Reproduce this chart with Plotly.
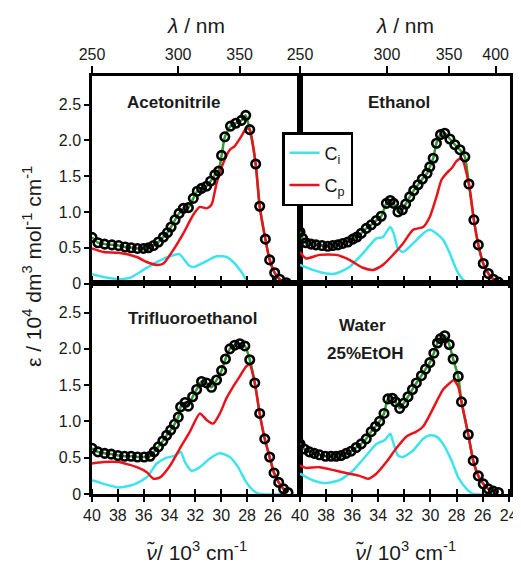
import plotly.graph_objects as go

# ---------------- data (wavenumber in 10^3 cm^-1, epsilon in 10^4 dm3 mol-1 cm-1) -------------
# Acetonitrile
acn_exp_nu = [40.0, 39.54, 39.02, 38.46, 37.94, 37.43, 36.97, 36.48, 36.02, 35.63, 35.24, 34.86, 34.47, 34.16,
              33.88, 33.57, 33.26, 32.93, 32.54, 32.16, 31.85, 31.52, 31.13, 30.82, 30.49, 30.2, 29.97, 29.72,
              29.28, 28.87, 28.43, 28.10, 27.79, 27.33, 27.02, 26.58, 26.25, 25.86, 25.48, 24.96]
acn_exp_eps = [0.645, 0.57, 0.55, 0.54, 0.53, 0.51, 0.50, 0.49, 0.49, 0.50, 0.53, 0.58, 0.65, 0.71,
               0.79, 0.89, 0.98, 1.05, 1.06, 1.19, 1.29, 1.33, 1.36, 1.43, 1.52, 1.57, 1.79, 2.05,
               2.20, 2.24, 2.28, 2.35, 2.15, 1.67, 1.08, 0.62, 0.33, 0.15, 0.06, 0.01]
acn_cp_nu = [40, 39.1, 37.94, 36.53, 35.76, 34.99, 34.47, 33.70, 32.93, 32.16, 31.65, 31.13, 30.75, 30.36,
             29.85, 29.33, 28.95, 28.43, 28.05, 27.79, 27.33, 27.02, 26.58, 26.25, 25.86, 25.48, 24.96]
acn_cp_eps = [0.49, 0.44, 0.43, 0.37, 0.30, 0.26, 0.28, 0.47, 0.70, 0.96, 1.07, 1.05, 1.10, 1.40,
              1.68, 1.87, 1.92, 2.06, 2.17, 2.15, 1.67, 1.08, 0.62, 0.33, 0.15, 0.06, 0.01]
acn_ci_nu = [40, 39.1, 37.94, 37.04, 36.02, 34.99, 33.96, 33.24, 32.93, 32.54, 32.16, 31.39, 30.36, 29.59,
             29.07, 28.43, 28.05, 27.66, 25.0]
acn_ci_eps = [0.13, 0.09, 0.06, 0.08, 0.19, 0.30, 0.38, 0.41, 0.35, 0.26, 0.23, 0.29, 0.38, 0.37,
              0.30, 0.16, 0.05, 0.0, 0.0]

# Ethanol
eth_exp_nu = [40, 39.8, 39.54, 39.15, 38.77, 38.31, 37.87, 37.49, 37.10, 36.72, 36.33, 35.95, 35.64, 35.31,
              34.92, 34.54, 34.15, 33.77, 33.38, 33.08, 32.82, 32.49, 32.15, 31.90, 31.59, 31.28, 30.95, 30.62,
              30.26, 30.05, 29.79, 29.54, 29.23, 28.90, 28.51, 28.13, 27.74, 27.36, 27.05, 26.67, 26.33, 25.95,
              25.56, 25.18, 24.79]
eth_exp_eps = [0.72, 0.63, 0.57, 0.55, 0.54, 0.53, 0.52, 0.53, 0.54, 0.56, 0.58, 0.62, 0.65, 0.70,
               0.77, 0.82, 0.88, 0.94, 1.12, 1.16, 1.12, 1.00, 1.03, 1.11, 1.21, 1.30, 1.38, 1.46,
               1.54, 1.63, 1.75, 1.96, 2.08, 2.10, 2.02, 1.94, 1.87, 1.77, 1.39, 0.89, 0.54, 0.28,
               0.14, 0.06, 0.02]
eth_cp_nu = [40, 39.54, 38.51, 37.23, 36.21, 35.18, 34.41, 33.64, 32.87, 32.10, 31.33, 30.56, 30.05, 29.54,
             29.15, 28.77, 28.38, 28.0, 27.62, 27.05, 26.67, 26.33, 25.95, 25.56, 25.18, 24.79]
eth_cp_eps = [0.44, 0.35, 0.40, 0.40, 0.33, 0.22, 0.19, 0.26, 0.40, 0.56, 0.75, 0.79, 0.93, 1.21,
              1.45, 1.54, 1.61, 1.71, 1.75, 1.39, 0.89, 0.54, 0.28, 0.14, 0.06, 0.02]
eth_ci_nu = [40, 39.03, 38.0, 37.23, 36.21, 35.18, 34.15, 33.64, 33.08, 32.82, 32.49, 32.10, 31.33, 30.56,
             30.05, 29.54, 29.03, 28.51, 28.0, 27.49, 26.97, 25.0]
eth_ci_eps = [0.26, 0.19, 0.14, 0.14, 0.23, 0.42, 0.63, 0.65, 0.79, 0.70, 0.49, 0.44, 0.56, 0.70,
              0.75, 0.70, 0.61, 0.42, 0.19, 0.05, 0.0, 0.0]

# Trifluoroethanol
tfe_exp_nu = [40, 39.54, 39.02, 38.51, 37.99, 37.48, 36.97, 36.48, 35.96, 35.50, 35.19, 34.86, 34.52, 34.22,
              33.91, 33.62, 33.32, 33.14, 32.80, 32.54, 32.21, 31.90, 31.52, 31.13, 30.75, 30.36, 29.97, 29.67,
              29.33, 28.95, 28.56, 28.17, 27.79, 27.40, 27.02, 26.63, 26.25, 25.91, 25.55, 25.17, 24.83]
tfe_exp_eps = [0.63, 0.58, 0.56, 0.55, 0.53, 0.52, 0.52, 0.51, 0.51, 0.52, 0.58, 0.65, 0.73, 0.81,
               0.88, 0.96, 1.06, 1.20, 1.26, 1.21, 1.34, 1.44, 1.55, 1.53, 1.47, 1.57, 1.70, 1.86,
               2.00, 2.05, 2.07, 2.04, 1.85, 1.53, 1.11, 0.76, 0.51, 0.29, 0.16, 0.07, 0.02]
tfe_cp_nu = [40, 39.1, 37.94, 36.53, 35.76, 35.24, 34.73, 33.96, 33.19, 32.42, 31.65, 31.13, 30.62, 30.10,
             29.59, 29.07, 28.56, 28.05, 27.79, 27.40, 27.02, 26.63, 26.25, 25.91, 25.55, 25.17, 24.83]
tfe_cp_eps = [0.42, 0.44, 0.44, 0.37, 0.30, 0.21, 0.23, 0.39, 0.63, 0.86, 1.11, 1.02, 0.97, 1.11,
              1.32, 1.48, 1.62, 1.76, 1.78, 1.53, 1.11, 0.76, 0.51, 0.29, 0.16, 0.07, 0.02]
tfe_ci_nu = [40, 39.1, 37.94, 36.79, 35.76, 34.99, 34.22, 33.57, 33.14, 32.80, 32.29, 31.65, 30.87, 30.10,
             29.33, 28.69, 28.05, 27.53, 27.02, 25.0]
tfe_ci_eps = [0.19, 0.14, 0.09, 0.13, 0.23, 0.42, 0.50, 0.53, 0.58, 0.44, 0.32, 0.37, 0.49, 0.56,
              0.51, 0.37, 0.16, 0.05, 0.0, 0.0]

# Water 25% EtOH
wat_exp_nu = [40, 39.67, 39.28, 38.90, 38.51, 38.05, 37.62, 37.23, 36.85, 36.46, 36.08, 35.69, 35.31, 34.92,
              34.54, 34.21, 33.90, 33.56, 33.26, 32.92, 32.67, 32.36, 32.05, 31.72, 31.38, 31.08, 30.69, 30.38,
              30.05, 29.74, 29.46, 29.23, 28.90, 28.56, 28.26, 27.87, 27.62, 27.10, 26.72, 26.33, 25.95, 25.56,
              25.18, 24.79]
wat_exp_eps = [0.69, 0.62, 0.58, 0.56, 0.54, 0.52, 0.52, 0.52, 0.53, 0.56, 0.59, 0.64, 0.69, 0.76,
               0.86, 0.93, 1.00, 1.11, 1.31, 1.32, 1.27, 1.18, 1.25, 1.34, 1.44, 1.53, 1.63, 1.72,
               1.81, 1.94, 2.08, 2.14, 2.18, 2.06, 1.86, 1.62, 1.27, 0.82, 0.46, 0.25, 0.14, 0.07,
               0.04, 0.02]
wat_cp_nu = [40, 39.54, 38.51, 37.23, 36.21, 35.44, 34.79, 34.15, 33.38, 32.62, 31.85, 31.08, 30.56, 30.05,
             29.54, 29.03, 28.51, 28.21, 27.87, 27.62, 27.10, 26.72, 26.33, 25.95, 25.56, 25.18, 24.79]
wat_cp_eps = [0.39, 0.36, 0.37, 0.32, 0.28, 0.25, 0.21, 0.28, 0.44, 0.63, 0.79, 0.86, 0.93, 1.09,
              1.27, 1.44, 1.53, 1.57, 1.48, 1.27, 0.82, 0.46, 0.25, 0.14, 0.07, 0.04, 0.02]
wat_ci_nu = [40, 39.03, 38.0, 36.97, 35.95, 34.92, 34.15, 33.51, 33.08, 32.82, 32.49, 32.10, 31.33, 30.56,
             30.05, 29.54, 29.03, 28.38, 27.87, 27.23, 26.72, 25.0]
wat_ci_eps = [0.28, 0.19, 0.15, 0.19, 0.32, 0.53, 0.69, 0.74, 0.83, 0.69, 0.53, 0.51, 0.60, 0.76,
              0.81, 0.79, 0.69, 0.46, 0.23, 0.07, 0.0, 0.0]

panel_names = ["Acetonitrile", "Ethanol", "Trifluoroethanol", "Water", "25%EtOH"]

# ticks
nu_ticks_left = [40, 38, 36, 34, 32, 30, 28, 26]
nu_ticks_right = [40, 38, 36, 34, 32, 30, 28, 26, 24]
lam_ticks_left = [250, 300, 350]
lam_ticks_right = [250, 300, 350, 400]
eps_ticks = [0, 0.5, 1.0, 1.5, 2.0, 2.5]
eps_ticktext = ["0", "0.5", "1.0", "1.5", "2.0", "2.5"]

# ---------------- styling ----------------
FONT = "Liberation Sans, Arial, sans-serif"
TXT = "#1a1a1a"
CYAN = "#3EE3EE"
RED = "#E8141C"
GREEN = "#2E9E2E"
AX = "black"
XR = [40, 23.9]
YR = [0, 2.9]

xsplit = 0.4976
ysplit = 0.5036

panels = [
    dict(exp=(acn_exp_nu, acn_exp_eps), cp=(acn_cp_nu, acn_cp_eps), ci=(acn_ci_nu, acn_ci_eps), xa="x", ya="y"),
    dict(exp=(eth_exp_nu, eth_exp_eps), cp=(eth_cp_nu, eth_cp_eps), ci=(eth_ci_nu, eth_ci_eps), xa="x2", ya="y2"),
    dict(exp=(tfe_exp_nu, tfe_exp_eps), cp=(tfe_cp_nu, tfe_cp_eps), ci=(tfe_ci_nu, tfe_ci_eps), xa="x3", ya="y3"),
    dict(exp=(wat_exp_nu, wat_exp_eps), cp=(wat_cp_nu, wat_cp_eps), ci=(wat_ci_nu, wat_ci_eps), xa="x4", ya="y4"),
]

fig = go.Figure()
for i, p in enumerate(panels):
    first = i == 0
    # total fit (green)
    fig.add_trace(go.Scatter(x=p["exp"][0], y=p["exp"][1], mode="lines", xaxis=p["xa"], yaxis=p["ya"],
                             line=dict(color=GREEN, width=2.5, shape="spline", smoothing=0.5),
                             showlegend=False, hoverinfo="skip"))
    fig.add_trace(go.Scatter(x=p["ci"][0], y=p["ci"][1], mode="lines", xaxis=p["xa"], yaxis=p["ya"],
                             line=dict(color=CYAN, width=2.5, shape="spline", smoothing=0.6),
                             name="C<sub>i</sub>", legendgroup="ci", showlegend=first))
    fig.add_trace(go.Scatter(x=p["cp"][0], y=p["cp"][1], mode="lines", xaxis=p["xa"], yaxis=p["ya"],
                             line=dict(color=RED, width=2.5, shape="spline", smoothing=0.6),
                             name="C<sub>p</sub>", legendgroup="cp", showlegend=first))
    fig.add_trace(go.Scatter(x=p["exp"][0], y=p["exp"][1], mode="markers", xaxis=p["xa"], yaxis=p["ya"],
                             marker=dict(symbol="circle-open", size=8.5, color="black",
                                         line=dict(width=2.6, color="black")),
                             showlegend=False))

tickfont = dict(family=FONT, size=16, color=TXT)
common = dict(range=XR, showline=True, linecolor=AX, linewidth=2.5, showgrid=False, zeroline=False,
              tickfont=tickfont, automargin=False, tickcolor=AX, tickwidth=2)

def lam_axis(dom, anchor, lams):
    return dict(common, domain=dom, anchor=anchor, side="top", mirror=True,
                tickmode="array", tickvals=[1e4 / l for l in lams], ticktext=[str(l) for l in lams],
                ticks="outside", ticklen=7)

def nu_axis(dom, anchor, vals):
    # crossing ticks: major outside + minor inside at the same positions; mirrored onto the panel above
    return dict(common, domain=dom, anchor=anchor, side="bottom", mirror="ticks",
                tickmode="array", tickvals=vals, ticks="outside", ticklen=5,
                minor=dict(tickmode="array", tickvals=[v + 1e-4 for v in vals], ticks="inside",
                           ticklen=5, tickwidth=2, tickcolor=AX, showgrid=False))

base_y = dict(range=YR, showline=True, linecolor=AX, linewidth=2.5, mirror=True, showgrid=False,
              zeroline=False, tickfont=tickfont, automargin=False)

# the page puts the figure 8 px in from the top-left corner, so the figure is 8 px smaller
fig.update_layout(
    width=513, height=559, paper_bgcolor="white", plot_bgcolor="white",
    margin=dict(l=84, r=11, t=68, b=73, autoexpand=False),
    font=dict(family=FONT, color=TXT),
    xaxis=lam_axis([0, xsplit], "y", lam_ticks_left),
    xaxis2=lam_axis([xsplit, 1], "y2", lam_ticks_right),
    xaxis3=nu_axis([0, xsplit], "y3", nu_ticks_left),
    xaxis4=nu_axis([xsplit, 1], "y4", nu_ticks_right),
    yaxis=dict(base_y, domain=[ysplit, 1], anchor="x", tickvals=eps_ticks, ticktext=eps_ticktext,
               ticks="outside", ticklen=5, tickwidth=2, tickcolor=AX),
    yaxis2=dict(base_y, domain=[ysplit, 1], anchor="x2", showticklabels=False, ticks=""),
    yaxis3=dict(base_y, domain=[0, ysplit], anchor="x3", tickvals=eps_ticks, ticktext=eps_ticktext,
                ticks="outside", ticklen=5, tickwidth=2, tickcolor=AX),
    yaxis4=dict(base_y, domain=[0, ysplit], anchor="x4", showticklabels=False, ticks=""),
    legend=dict(x=(282 - 92) / 418, y=(494 - 132) / 418, xanchor="left", yanchor="top",
                bgcolor="white", bordercolor="black", borderwidth=2.5,
                font=dict(family=FONT, size=18, color=TXT), tracegroupgap=6,
                traceorder="grouped", itemwidth=30),
)

def px(xp):
    return (xp - 92) / 418

def py(yp):
    return (494 - yp) / 418

ann = []
def add(xc, yc, text, size, bold=False, angle=0):
    ann.append(dict(x=px(xc), y=py(yc), xref="paper", yref="paper", xanchor="center", yanchor="middle",
                    text=("<b>%s</b>" % text) if bold else text, showarrow=False, textangle=angle,
                    font=dict(family=FONT, size=size, color=TXT)))

for xc in (196, 405):
    add(xc, 26, "<i>λ</i> / nm", 21)
    add(xc, 551, "<i>ν̃</i>/ 10<sup>3</sup> cm<sup>-1</sup>", 21)
add(32, 267, "ε / 10<sup>4</sup> dm<sup>3</sup> mol<sup>-1</sup> cm<sup>-1</sup>", 21, angle=-90)
add(174, 102, panel_names[0], 17, bold=True)
add(399, 102, panel_names[1], 17, bold=True)
add(192, 318, panel_names[2], 17, bold=True)
add(362, 325, panel_names[3], 17, bold=True)
add(365, 353, panel_names[4], 17, bold=True)
fig.update_layout(annotations=ann)

fig.write_html("out.html")
